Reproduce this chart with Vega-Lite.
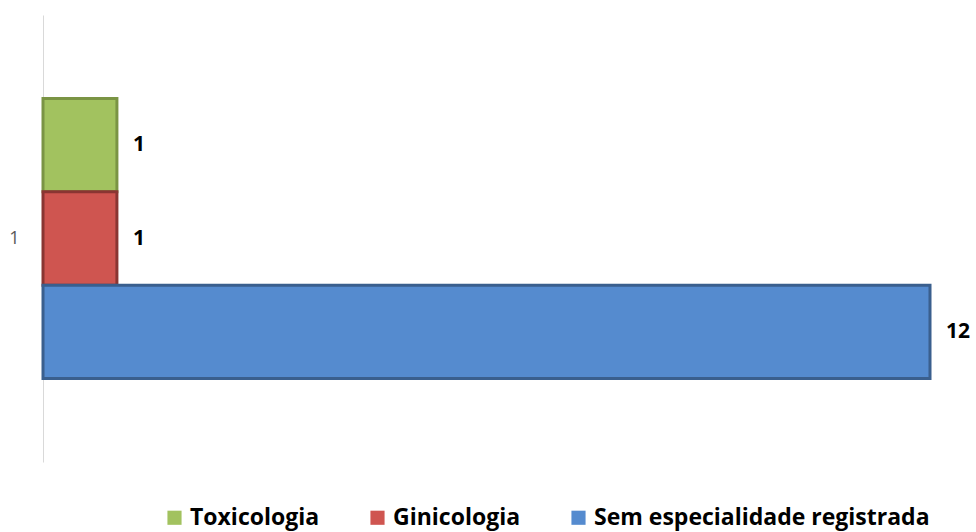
{
  "$schema": "https://vega.github.io/schema/vega-lite/v6.json",
  "width": 887,
  "height": 447,
  "autosize": {"type": "none"},
  "padding": {"left": 43, "top": 15, "right": 46, "bottom": 70},
  "background": "white",
  "config": {"view": {"stroke": null}, "font": "Open Sans", "legend": {"padding": 0}},
  "data": {"values": [
    {"cat": "1", "serie": "Toxicologia", "valor": 1},
    {"cat": "1", "serie": "Ginicologia", "valor": 1},
    {"cat": "1", "serie": "Sem especialidade registrada", "valor": 12}
  ]},
  "encoding": {
    "y": {"field": "cat", "type": "nominal", "scale": {"paddingInner": 0, "paddingOuter": 0.298},
      "axis": {"title": null, "domainColor": "#d9d9d9", "domainWidth": 1, "ticks": false, "labelPadding": 24, "labelFontSize": 18, "labelColor": "#595959", "labelFont": "Open Sans", "labelFontWeight": "normal", "labelAngle": 0}},
    "yOffset": {"field": "serie", "type": "nominal", "scale": {"domain": ["Toxicologia", "Ginicologia", "Sem especialidade registrada"], "paddingInner": 0, "paddingOuter": 0}},
    "x": {"field": "valor", "type": "quantitative", "scale": {"domain": [0, 12], "nice": false}, "axis": null}
  },
  "layer": [
    {
      "mark": {"type": "bar", "strokeWidth": 3, "strokeJoin": "miter"},
      "encoding": {
        "color": {"field": "serie", "type": "nominal",
          "scale": {"domain": ["Toxicologia", "Ginicologia", "Sem especialidade registrada"], "range": ["#a2c25f", "#cf5550", "#558bcf"]},
          "legend": {"title": null, "orient": "none", "legendX": 120, "legendY": 491, "direction": "horizontal", "symbolType": "square", "symbolSize": 200, "symbolStrokeWidth": 0, "labelFontSize": 23, "labelFontWeight": "bold", "labelColor": "#000000", "labelFont": "Open Sans", "columnPadding": 46, "labelOffset": 4, "labelLimit": 600}},
        "stroke": {"field": "serie", "type": "nominal",
          "scale": {"domain": ["Toxicologia", "Ginicologia", "Sem especialidade registrada"], "range": ["#7a9444", "#8a3532", "#3a5f8e"]},
          "legend": null}
      }
    },
    {
      "mark": {"type": "text", "align": "left", "baseline": "middle", "dx": 16, "fontSize": 21, "fontWeight": "bold", "color": "#000000", "font": "Open Sans"},
      "encoding": {"text": {"field": "valor", "type": "quantitative"}}
    }
  ]
}
